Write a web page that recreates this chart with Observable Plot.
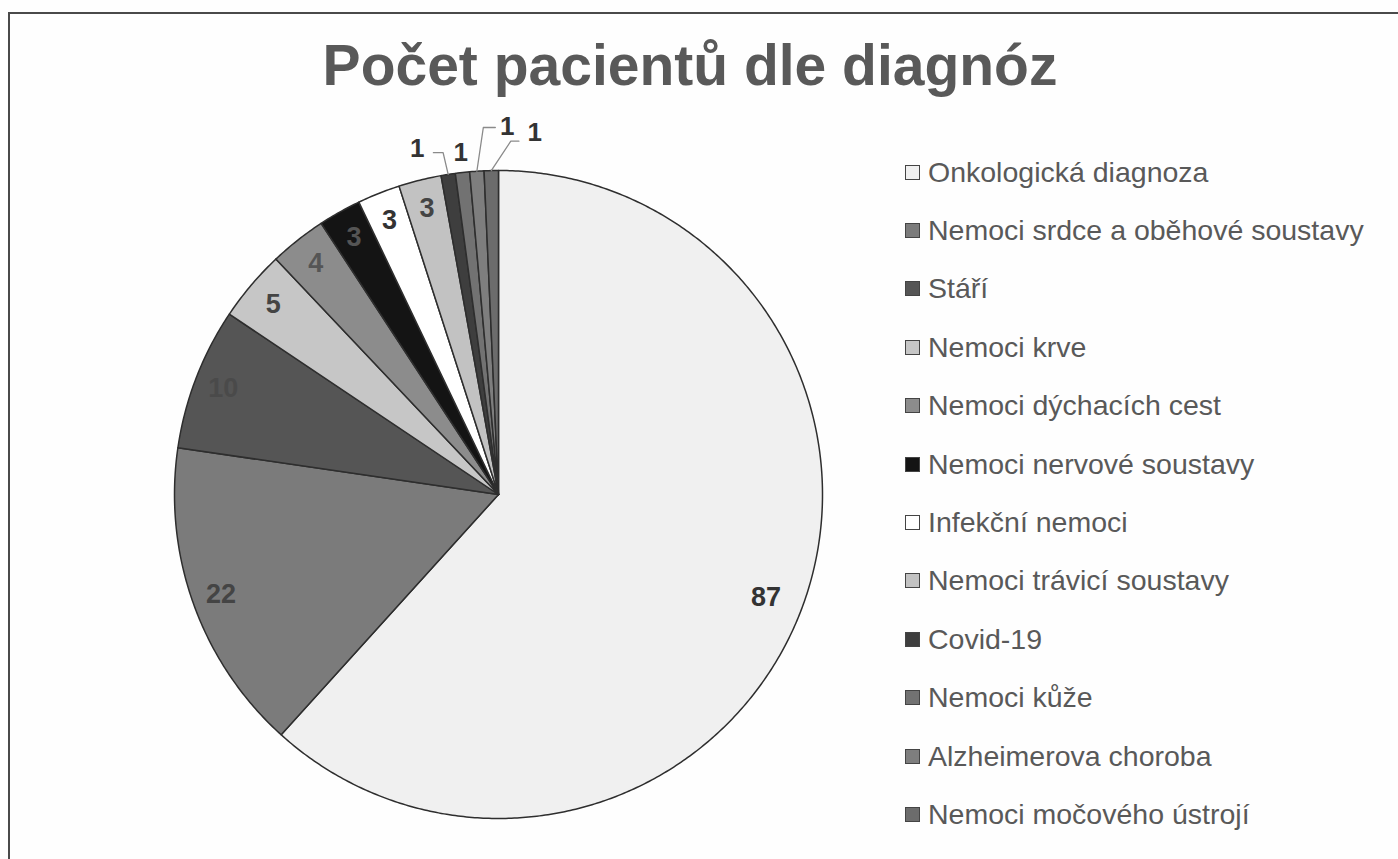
<!DOCTYPE html>
<html>
<head>
<meta charset="utf-8">
<script src="https://cdn.jsdelivr.net/npm/d3@7"></script>
<script src="https://cdn.jsdelivr.net/npm/@observablehq/plot@0.6"></script>
<style>
  body { margin: 0; background: #fefefe; font-family: "Liberation Sans", Arial, sans-serif; }
  #wrap { position: relative; width: 1398px; height: 859px; background: #fefefe; overflow: hidden; }
  #frame { position: absolute; left: 8px; top: 12px; width: 1500px; height: 1000px; border-left: 2px solid #4a4a4a; border-top: 2px solid #4a4a4a; }
  #chart { position: absolute; left: 0; top: 0; }
  #title { position: absolute; left: 0; width: 1380px; top: 36px; text-align: center; font-size: 57px; line-height: 58px; font-weight: bold; color: #595959; }
  #legend { position: absolute; left: 905px; top: 143px; }
  .row { display: flex; align-items: center; height: 58.4px; }
  .sw { width: 15px; height: 15px; border: 1px solid #444; margin-right: 8px; box-sizing: border-box; }
  .lab { font-size: 28.5px; color: #595959; white-space: nowrap; }
</style>
</head>
<body>
<div id="wrap">
  <div id="frame"></div>
  <div id="chart"></div>
  <div id="title">Počet pacientů dle diagnóz</div>
  <div id="legend"></div>
</div>
<script>
// ---- data ----
const categories = [
  "Onkologická diagnoza",
  "Nemoci srdce a oběhové soustavy",
  "Stáří",
  "Nemoci krve",
  "Nemoci dýchacích cest",
  "Nemoci nervové soustavy",
  "Infekční nemoci",
  "Nemoci trávicí soustavy",
  "Covid-19",
  "Nemoci kůže",
  "Alzheimerova choroba",
  "Nemoci močového ústrojí"
];
const values = [87, 22, 10, 5, 4, 3, 3, 3, 1, 1, 1, 1];

// ---- styles ----
const sliceColors = ["#f0f0f0", "#7b7b7b", "#555555", "#c6c6c6", "#8c8c8c", "#141414",
                     "#ffffff", "#c2c2c2", "#3e3e3e", "#727272", "#7e7e7e", "#6c6c6c"];
const labelColors = ["#333333", "#444444", "#4a4a4a", "#444444", "#555555", "#555555",
                     "#333333", "#444444", "#333333", "#333333", "#333333", "#333333"];
// outside label layout for tiny slices (angle offset in degrees, radius, leader)
const outsideLayout = {
  8:  {dA: -4.3, r: 1.096, leader: [[0.05, 0.012], [0.08, 0.012]]},
  9:  {dA: 0.1,  r: 1.062, leader: null},
  10: {dA: 5.2,  r: 1.136, leader: [[-0.037, 0.003], [-0.074, 0.003]]},
  11: {dA: 7.0,  r: 1.123, leader: [[-0.049, 0.027], [-0.074, 0.027]]}
};

// ---- geometry ----
const W = 1398, H = 859, CX = 498, CY = 494, R = 324;
const total = d3.sum(values);
const pt = (a, r) => [r * Math.sin(a * Math.PI / 180), -r * Math.cos(a * Math.PI / 180)];

let cum = 0;
const slices = values.map((v, i) => {
  const a0 = cum / total * 360;
  cum += v;
  const a1 = cum / total * 360;
  return {cat: categories[i], value: v, a0, a1, mid: (a0 + a1) / 2, i};
});

const marks = [];
for (const s of slices) {
  const poly = [{x: 0, y: 0}];
  const n = Math.max(2, Math.ceil((s.a1 - s.a0) / 0.5));
  for (let k = 0; k <= n; k++) {
    const [x, y] = pt(s.a0 + (s.a1 - s.a0) * k / n, 1);
    poly.push({x, y});
  }
  poly.push({x: 0, y: 0});
  marks.push(Plot.line(poly, {x: "x", y: "y", fill: sliceColors[s.i], stroke: "#2e2e2e", strokeWidth: 1.5, strokeLinejoin: "round", curve: "linear"}));
}

for (const s of slices) {
  let lx, ly;
  const lay = outsideLayout[s.i];
  if (lay) {
    [lx, ly] = pt(s.mid + lay.dA, lay.r);
    if (lay.leader) {
      const [sx, sy] = pt(s.mid, 1.0);
      const line = [
        {x: sx, y: sy},
        {x: lx + lay.leader[1][0], y: ly + lay.leader[1][1]},
        {x: lx + lay.leader[0][0], y: ly + lay.leader[0][1]}
      ];
      marks.push(Plot.line(line, {x: "x", y: "y", stroke: "#8a8a8a", strokeWidth: 1.3}));
    }
  } else {
    [lx, ly] = pt(s.mid, s.value > 50 ? 0.885 : 0.91);
  }
  marks.push(Plot.text([{x: lx, y: ly, t: String(s.value)}], {
    x: "x", y: "y", text: "t", fill: labelColors[s.i],
    fontSize: s.value === 1 ? 26 : 27, fontWeight: "bold",
    fontFamily: "'Liberation Sans', Arial, sans-serif"
  }));
}

const chart = Plot.plot({
  width: W, height: H, margin: 0,
  style: {background: "transparent", overflow: "visible"},
  x: {domain: [-CX / R, (W - CX) / R], range: [0, W], axis: null},
  y: {domain: [-CY / R, (H - CY) / R], range: [0, H], axis: null},
  marks
});
document.getElementById("chart").append(chart);

// ---- legend ----
const legend = document.getElementById("legend");
categories.forEach((c, i) => {
  const row = document.createElement("div");
  row.className = "row";
  const sw = document.createElement("div");
  sw.className = "sw";
  sw.style.background = sliceColors[i];
  const lab = document.createElement("div");
  lab.className = "lab";
  lab.textContent = c;
  row.append(sw, lab);
  legend.append(row);
});
</script>
</body>
</html>
